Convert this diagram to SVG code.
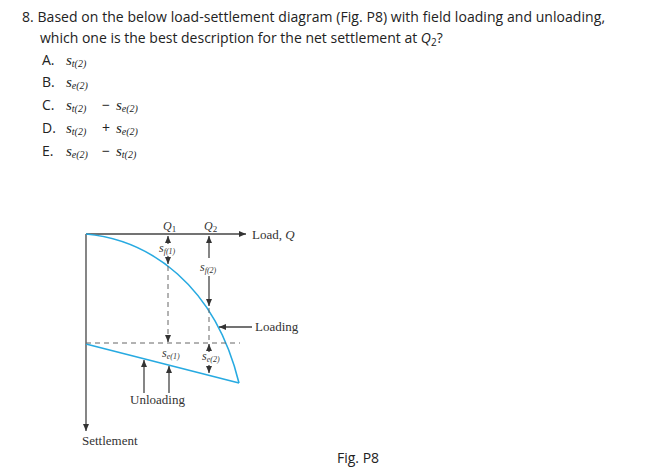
<svg xmlns="http://www.w3.org/2000/svg" width="652" height="469" viewBox="0 0 652 469">
<style>
.q{font-family:"Open Sans","Noto Sans",sans-serif;font-size:14px;fill:#222}
.m{font-family:"Liberation Serif",serif;font-style:italic;font-size:12px;fill:#333}
.o{font-family:"Liberation Serif",serif;font-style:italic;font-size:15px;fill:#222}
.d{font-family:"Liberation Serif",serif;font-size:13px;fill:#333}
.ax{stroke:#444;stroke-width:1.3;fill:none}
.da{stroke:#666;stroke-width:1;stroke-dasharray:5,4;fill:none}
.bl{stroke:#27aae1;stroke-width:1.6;fill:none}
</style>
<defs><marker id="a" markerWidth="8" markerHeight="8" refX="7" refY="4" orient="auto" markerUnits="userSpaceOnUse"><path d="M0,1 L7,4 L0,7z" fill="#333"/></marker></defs>
<rect width="652" height="469" fill="#fff"/>
<g id="question">
<text class="q" x="22" y="22" textLength="583">8.  Based on the below load-settlement diagram (Fig. P8) with field loading and unloading,</text>
<text class="q" x="40" y="43">which one is the best description for the net settlement at <tspan font-style="italic">Q</tspan><tspan font-size="10" dy="3">2</tspan><tspan dy="-3">?</tspan></text>
<text class="q" x="42" y="65">A.</text><text class="o" x="66" y="65">s<tspan font-size="10" dy="2">t(2)</tspan></text>
<text class="q" x="42" y="87">B.</text><text class="o" x="66" y="87">s<tspan font-size="10" dy="2">e(2)</tspan></text>
<text class="q" x="42" y="110">C.</text><text class="o" x="66" y="110">s<tspan font-size="10" dy="2">t(2)</tspan></text><text class="q" x="102" y="110" font-size="16">−</text><text class="o" x="116" y="110">s<tspan font-size="10" dy="2">e(2)</tspan></text>
<text class="q" x="42" y="133">D.</text><text class="o" x="66" y="133">s<tspan font-size="10" dy="2">t(2)</tspan></text><text class="q" x="102" y="133" font-size="16">+</text><text class="o" x="116" y="133">s<tspan font-size="10" dy="2">e(2)</tspan></text>
<text class="q" x="42" y="156">E.</text><text class="o" x="66" y="156">s<tspan font-size="10" dy="2">e(2)</tspan></text><text class="q" x="102" y="156" font-size="16">−</text><text class="o" x="116" y="156">s<tspan font-size="10" dy="2">t(2)</tspan></text>
</g>
<g id="connectors">
<line class="ax" x1="86" y1="234" x2="86" y2="431" marker-end="url(#a)"/>
<line class="ax" x1="86" y1="234" x2="246" y2="234" marker-end="url(#a)"/>
<path class="bl" d="M86,234 C150,240 215,285 239,383"/>
<path class="bl" d="M86,344 L239,383"/>
<line class="da" x1="86" y1="343" x2="240" y2="343"/>
<line class="ax" x1="168" y1="244" x2="168" y2="236" marker-end="url(#a)"/>
<line class="ax" x1="168" y1="256" x2="168" y2="264" marker-end="url(#a)"/>
<line class="da" x1="168" y1="266" x2="168" y2="336"/>
<line class="ax" x1="168" y1="335" x2="168" y2="342" marker-end="url(#a)"/>
<line class="ax" x1="209" y1="258" x2="209" y2="236" marker-end="url(#a)"/>
<line class="ax" x1="209" y1="276" x2="209" y2="306" marker-end="url(#a)"/>
<line class="da" x1="209" y1="308" x2="209" y2="343"/>
<line class="ax" x1="209" y1="352" x2="209" y2="344" marker-end="url(#a)"/>
<line class="ax" x1="209" y1="365" x2="209" y2="373" marker-end="url(#a)"/>
<line class="ax" x1="252" y1="327" x2="219" y2="327" marker-end="url(#a)"/>
<line class="ax" x1="144" y1="393" x2="144" y2="360" marker-end="url(#a)"/>
<line class="ax" x1="169" y1="393" x2="169" y2="366" marker-end="url(#a)"/>
</g>
<g id="labels">
<text class="m" x="163" y="230" font-size="13">Q<tspan font-size="9" font-style="normal" dy="2">1</tspan></text>
<text class="m" x="204" y="230" font-size="13">Q<tspan font-size="9" font-style="normal" dy="2">2</tspan></text>
<text class="d" x="252" y="239">Load, <tspan font-style="italic">Q</tspan></text>
<text class="m" x="159" y="252" font-size="11">s<tspan font-size="8" dy="2">f(1)</tspan></text>
<text class="m" x="200" y="271" font-size="11">s<tspan font-size="8" dy="2">f(2)</tspan></text>
<text class="d" x="255" y="331">Loading</text>
<text class="m" x="162" y="357" font-size="11">s<tspan font-size="8" dy="2">e(1)</tspan></text>
<text class="m" x="202" y="360" font-size="11">s<tspan font-size="8" dy="2">e(2)</tspan></text>
<text class="d" x="130" y="404">Unloading</text>
<text class="d" x="82" y="445">Settlement</text>
<text class="q" x="337" y="463">Fig. P8</text>
</g>
</svg>
